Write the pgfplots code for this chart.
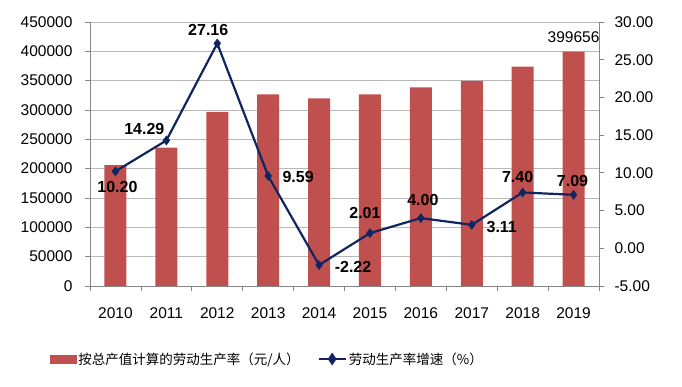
\documentclass[border=0pt]{standalone}
\usepackage{pgfplots}
\usepackage{pgfplotstable}
\pgfplotsset{compat=1.18}
\usepackage{fontspec}
\setmainfont{Liberation Sans}
\newfontfamily\cjk{Noto Sans CJK SC}
\definecolor{barred}{RGB}{192,80,77}
\definecolor{linenavy}{RGB}{16,38,96}
\definecolor{gridgray}{RGB}{184,184,184}
\definecolor{axisgray}{RGB}{134,134,134}

\pgfplotstableread{
x val lab
0 206000 {}
1 235700 {}
2 297000 {}
3 326500 {}
4 320000 {}
5 326500 {}
6 338500 {}
7 349500 {}
8 374000 {}
9 399656 399656
}\bars

\pgfplotstableread{
x val lab dx dy
0 10.20 10.20 2 -16
1 14.29 14.29 -22 12
2 27.16 27.16 -9 13
3 9.59 9.59 30 -1
4 -2.22 -2.22 34 -2
5 2.01 2.01 -5 20
6 4.00 4.00 2 18
7 3.11 3.11 30 -2
8 7.40 7.40 -5 15
9 7.09 7.09 -1 14
}\rate

\begin{document}
\begin{tikzpicture}
\pgfplotsset{
  common/.style={
    at={(90pt,101pt)}, anchor=south west,
    scale only axis, width=509pt, height=264pt,
    xmin=-0.5, xmax=9.5,
    axis line style={axisgray, line width=0.8pt, -},
    tick align=outside,
    tick style={axisgray, line width=0.8pt},
    major tick length=5pt, minor tick length=5pt,
    ticklabel style={font=\fontsize{15.5}{17}\selectfont},
  }
}
\begin{axis}[
  common,
  ymin=0, ymax=450000,
  axis y line*=left, axis x line*=bottom,
  ytick={0,50000,...,450000},
  scaled y ticks=false,
  yticklabel style={xshift=-9pt, /pgf/number format/.cd, fixed, 1000 sep={}, assume math mode=true},
  ymajorgrids, grid style={gridgray, line width=0.8pt},
  xtick={0,1,2,3,4,5,6,7,8,9},
  xticklabels={2010,2011,2012,2013,2014,2015,2016,2017,2018,2019},
  minor xtick={-0.5,0.5,...,9.5},
  major x tick style={draw=none},
  xticklabel style={yshift=-13pt},
]
\addplot[ybar, bar width=22pt, fill=barred, draw=none,
  point meta=explicit symbolic,
  nodes near coords,
  every node near coord/.append style={font=\fontsize{15.5}{17}\selectfont, anchor=south, yshift=5pt}]
  table[x=x, y=val, meta=lab] {\bars};
\end{axis}

\begin{axis}[
  common,
  ymin=-5, ymax=30,
  axis y line*=right, axis x line=none,
  ytick={-5,0,...,30},
  yticklabel style={xshift=7pt, /pgf/number format/.cd, fixed, fixed zerofill, precision=2, assume math mode=true},
  legend style={at={(-0.085,-0.2765)}, anchor=west, draw=none, fill=none,
    font=\cjk\fontsize{13.5}{16}\selectfont, legend columns=2,
    /tikz/every even column/.append style={column sep=16pt}},
]
\addlegendimage{legend image code/.code={\fill[barred] (0pt,-4pt) rectangle (26pt,4pt);}}
\addlegendentry{按总产值计算的劳动生产率（元/人）}
\addplot[linenavy, line width=2.2pt, mark=diamond*, mark size=4.5pt,
  mark options={solid, fill=linenavy, line width=0.5pt},
  legend image code/.code={\draw[linenavy, line width=2.2pt] (0pt,0pt) -- (27pt,0pt);
     \fill[linenavy] (13.5pt,0pt) +(0,4.5pt) -- +(3pt,0) -- +(0,-4.5pt) -- +(-3pt,0) -- cycle;},
  point meta=explicit symbolic,
  visualization depends on={\thisrow{dx}\as\dx},
  visualization depends on={\thisrow{dy}\as\dy},
  nodes near coords,
  every node near coord/.append style={font=\bfseries\fontsize{16}{18}\selectfont, text=black,
    anchor=center, xshift=\dx pt, yshift=\dy pt}]
  table[x=x, y=val, meta=lab] {\rate};
\addlegendentry{劳动生产率增速（\%）}
\end{axis}
\pgfresetboundingbox
\path[use as bounding box] (0,0) rectangle (682pt,387pt);
\end{tikzpicture}
\end{document}
